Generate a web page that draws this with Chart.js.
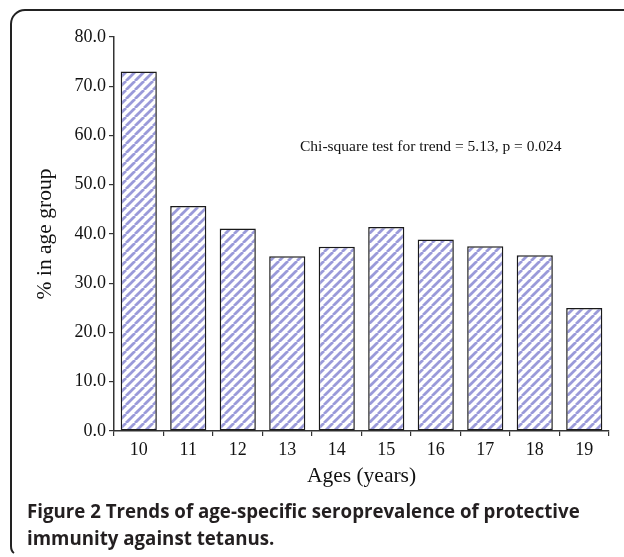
<!DOCTYPE html>
<html>
<head>
<meta charset="utf-8">
<script src="https://cdn.jsdelivr.net/npm/chart.js@4.4.0/dist/chart.umd.min.js"></script>
<style>
  html, body { margin: 0; padding: 0; background: #fff; }
  #wrap { position: relative; width: 624px; height: 557px; overflow: hidden; }
  #c { position: absolute; left: 0; top: 0; }
  #caption {
    position: absolute; left: 27px; top: 497px; width: 594px;
    font-family: "Open Sans", Lato, sans-serif; font-weight: 700; font-size: 18.7px;
    line-height: 27px; color: #231f20;
  }
  #caption b { font-weight: 700; }
</style>
</head>
<body>
<div id="wrap">
  <canvas id="c" width="624" height="557"></canvas>
  <div id="caption"><b>Figure 2</b> Trends of age-specific seroprevalence of protective immunity against tetanus.</div>
</div>
<script>
const ages = ['10', '11', '12', '13', '14', '15', '16', '17', '18', '19'];
const percentProtected = [73.0, 45.7, 41.1, 35.5, 37.4, 41.4, 38.9, 37.5, 35.7, 25.0];
const yTickMin = 0;
const yTickMax = 80;
const yTickStep = 10;
const annotationText = 'Chi-square test for trend = 5.13, p = 0.024';
const xTitle = 'Ages (years)';
const yTitle = '% in age group';

function makeHatch() {
  const s = 9;
  const c = document.createElement('canvas');
  c.width = s; c.height = s;
  const g = c.getContext('2d');
  g.fillStyle = '#ffffff';
  g.fillRect(0, 0, s, s);
  g.strokeStyle = '#9a9ad9';
  g.lineWidth = 2.8;
  g.beginPath();
  for (let k = -s; k <= s; k += s) {
    g.moveTo(k, s);
    g.lineTo(k + s, 0);
  }
  g.stroke();
  return g.createPattern(c, 'repeat');
}

const framePlugin = {
  id: 'frame',
  beforeDraw(chart) {
    const ctx = chart.ctx;
    ctx.save();
    ctx.strokeStyle = '#222';
    ctx.lineWidth = 2;
    ctx.beginPath();
    ctx.moveTo(14, 553);
    ctx.quadraticCurveTo(11, 551, 11, 546);
    ctx.lineTo(11, 24);
    ctx.arcTo(11, 10, 25, 10, 14);
    ctx.lineTo(630, 10);
    ctx.stroke();
    ctx.restore();
  },
  afterDraw(chart) {
    const ctx = chart.ctx;
    ctx.save();
    ctx.fillStyle = '#111';
    ctx.font = '15.5px "Liberation Serif", "Times New Roman", serif';
    ctx.textBaseline = 'middle';
    ctx.textAlign = 'left';
    ctx.fillText(annotationText, 300, 147);
    ctx.restore();
  }
};

const serif = '"Liberation Serif", "Times New Roman", serif';

new Chart(document.getElementById('c'), {
  type: 'bar',
  data: {
    labels: ages,
    datasets: [{
      data: percentProtected,
      backgroundColor: makeHatch(),
      borderColor: '#1a1a1a',
      borderWidth: 1.5,
      borderSkipped: false,
      barPercentage: 0.73,
      categoryPercentage: 1.0
    }]
  },
  options: {
    responsive: false,
    animation: false,
    devicePixelRatio: 1,
    layout: { padding: { left: 0, right: 15, top: 37, bottom: 0 } },
    plugins: { legend: { display: false }, tooltip: { enabled: false } },
    scales: {
      x: {
        grid: { display: true, drawOnChartArea: false, drawTicks: true, tickLength: 5, color: '#333', lineWidth: 1.2 },
        border: { display: true, color: '#333', width: 1.5 },
        ticks: { color: '#111', font: { family: serif, size: 18 }, padding: 3 },
        title: { display: true, text: xTitle, color: '#111', font: { family: serif, size: 21.5 }, padding: { top: 0, bottom: 68 } },
        afterFit(scale) { scale.height = 126; }
      },
      y: {
        min: yTickMin,
        max: yTickMax,
        grid: { display: true, drawOnChartArea: false, drawTicks: true, tickLength: 5, color: '#333', lineWidth: 1.2 },
        border: { display: true, color: '#333', width: 1.5 },
        ticks: {
          stepSize: yTickStep,
          color: '#111',
          font: { family: serif, size: 18 },
          padding: 3,
          callback: (v) => Number(v).toFixed(1)
        },
        title: { display: true, text: yTitle, color: '#111', font: { family: serif, size: 21.5 }, padding: { top: 32, bottom: 0 } },
        afterFit(scale) { scale.width = 114; }
      }
    }
  },
  plugins: [framePlugin]
});
</script>
</body>
</html>
